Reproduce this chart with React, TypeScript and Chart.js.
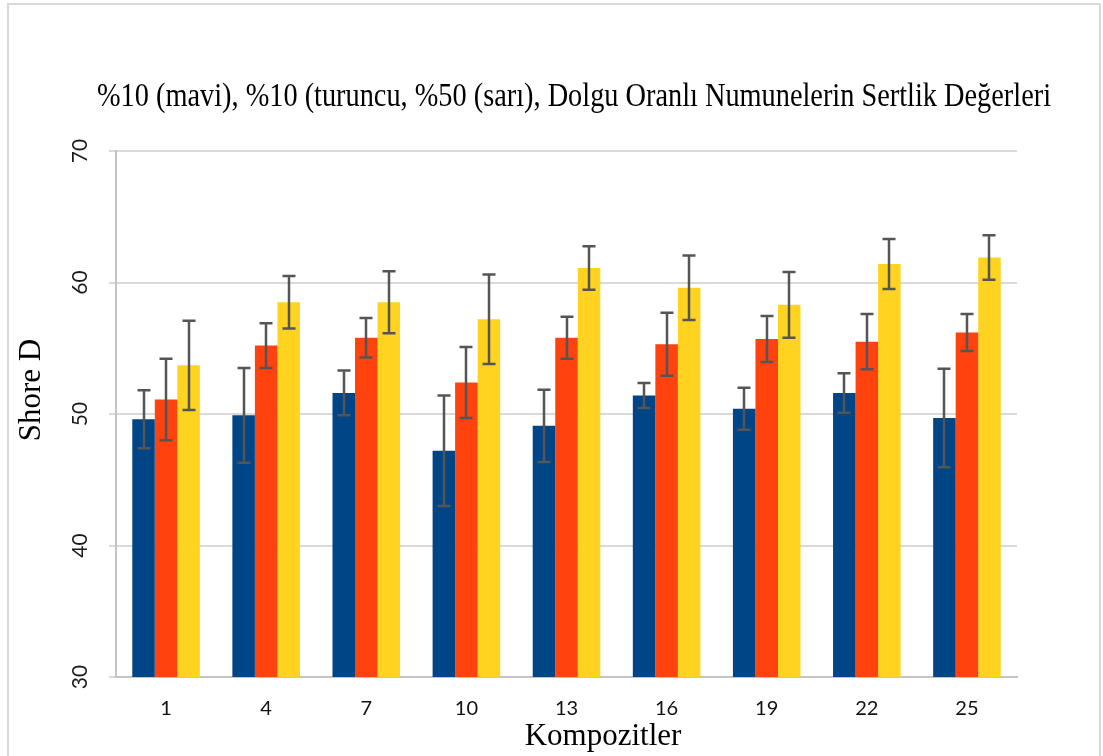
import React, { useEffect, useRef } from "react";
import { Chart, registerables } from "chart.js";

Chart.register(...registerables);

// Composite numbers on the x axis
const categories = ["1", "4", "7", "10", "13", "16", "19", "22", "25"];

// Shore D hardness means and their standard deviations
const blueValues = [49.6, 49.9, 51.6, 47.2, 49.1, 51.4, 50.4, 51.6, 49.7];
const blueErrors = [2.2, 3.6, 1.7, 4.2, 2.75, 0.95, 1.6, 1.5, 3.75];
const orangeValues = [51.1, 55.2, 55.8, 52.4, 55.8, 55.3, 55.7, 55.5, 56.2];
const orangeErrors = [3.1, 1.7, 1.5, 2.7, 1.6, 2.4, 1.75, 2.1, 1.4];
const yellowValues = [53.7, 58.5, 58.5, 57.2, 61.1, 59.6, 58.3, 61.4, 61.9];
const yellowErrors = [3.4, 2.0, 2.35, 3.4, 1.65, 2.45, 2.5, 1.9, 1.7];

const yTicks = [30, 40, 50, 60, 70];

const titleText =
  "%10 (mavi), %10 (turuncu, %50 (sarı), Dolgu Oranlı Numunelerin Sertlik Değerleri";
const yTitle = "Shore D";
const xTitle = "Kompozitler";

const serif = "'Liberation Serif', 'Times New Roman', serif";
const sans = "Lato, 'Open Sans', 'Liberation Sans', sans-serif";

const errorSets = [blueErrors, orangeErrors, yellowErrors];

// Frame around the whole chart
const framePlugin = {
  id: "frame",
  beforeDraw(chart: any) {
    const { ctx, width, height } = chart;
    ctx.save();
    ctx.fillStyle = "#ffffff";
    ctx.fillRect(0, 0, width, height);
    ctx.strokeStyle = "#d9d9d9";
    ctx.lineWidth = 2;
    ctx.strokeRect(8, 4, 1092, height + 20);
    ctx.restore();
  },
};

// Standard deviation whiskers on every bar
const errorBarPlugin = {
  id: "errorBars",
  afterDatasetsDraw(chart: any) {
    const { ctx } = chart;
    const yScale = chart.scales.y;
    ctx.save();
    ctx.strokeStyle = "#555555";
    ctx.lineWidth = 2.5;
    chart.data.datasets.forEach((ds: any, di: number) => {
      const meta = chart.getDatasetMeta(di);
      const errs = errorSets[di];
      meta.data.forEach((bar: any, i: number) => {
        const v = ds.data[i];
        const e = errs[i];
        const x = Math.round(bar.x);
        const yTop = yScale.getPixelForValue(v + e);
        const yBot = yScale.getPixelForValue(v - e);
        const cap = 6.5;
        ctx.beginPath();
        ctx.moveTo(x, yTop);
        ctx.lineTo(x, yBot);
        ctx.moveTo(x - cap, yTop);
        ctx.lineTo(x + cap, yTop);
        ctx.moveTo(x - cap, yBot);
        ctx.lineTo(x + cap, yBot);
        ctx.stroke();
      });
    });
    ctx.restore();
  },
};

// Titles and rotated value labels
const textPlugin = {
  id: "texts",
  afterDraw(chart: any) {
    const { ctx } = chart;
    const yScale = chart.scales.y;
    ctx.save();
    ctx.fillStyle = "#000000";

    // main title, set in a condensed serif
    ctx.font = `34px ${serif}`;
    ctx.textAlign = "left";
    ctx.textBaseline = "alphabetic";
    const w = ctx.measureText(titleText).width;
    const sx = 954 / w;
    ctx.save();
    ctx.translate(97, 106);
    ctx.scale(sx, 1);
    ctx.fillText(titleText, 0, 0);
    ctx.restore();

    // x axis title
    ctx.font = `31px ${serif}`;
    ctx.textAlign = "center";
    ctx.fillText(xTitle, 603, 745);

    // y axis title
    ctx.save();
    ctx.translate(32, 390);
    ctx.rotate(-Math.PI / 2);
    ctx.font = `31px ${serif}`;
    ctx.textAlign = "center";
    ctx.textBaseline = "middle";
    ctx.fillText(yTitle, 0, 0);
    ctx.restore();

    // y tick labels, rotated
    ctx.font = `21px ${sans}`;
    ctx.fillStyle = "#1a1a1a";
    yTicks.forEach((t) => {
      const y = yScale.getPixelForValue(t);
      ctx.save();
      ctx.translate(80, y);
      ctx.rotate(-Math.PI / 2);
      ctx.textAlign = "center";
      ctx.textBaseline = "middle";
      ctx.fillText(String(t), 0, 0);
      ctx.restore();
    });
    ctx.restore();
  },
};

export default function App() {
  const canvasRef = useRef<HTMLCanvasElement | null>(null);

  useEffect(() => {
    document.body.style.margin = "0";
    document.body.style.overflow = "hidden";
    const canvas = canvasRef.current;
    if (!canvas) return;
    const chart = new Chart(canvas, {
      type: "bar",
      data: {
        labels: categories,
        datasets: [
          { label: "%10 (mavi)", data: blueValues, backgroundColor: "#004586" },
          { label: "%10 (turuncu)", data: orangeValues, backgroundColor: "#ff420e" },
          { label: "%50 (sarı)", data: yellowValues, backgroundColor: "#ffd320" },
        ],
      },
      options: {
        responsive: false,
        animation: false,
        events: [],
        layout: { padding: { left: 0, right: 86, top: 151, bottom: 0 } },
        datasets: {
          bar: { categoryPercentage: 0.675, barPercentage: 1.0, borderWidth: 0 },
        },
        plugins: {
          legend: { display: false },
          title: { display: false },
          tooltip: { enabled: false },
        },
        scales: {
          x: {
            grid: { display: false, drawTicks: false },
            border: { display: true, color: "#c4c4c4", width: 2 },
            ticks: {
              color: "#111111",
              font: { family: sans, size: 20 },
              padding: 20,
            },
            afterFit(scale: any) {
              scale.height = 79;
            },
          },
          y: {
            min: 30,
            max: 70,
            ticks: { stepSize: 10, display: false },
            grid: { color: "#d9d9d9", lineWidth: 2, tickLength: 7, drawTicks: true },
            border: { display: true, color: "#c4c4c4", width: 2 },
            afterFit(scale: any) {
              scale.width = 116;
            },
          },
        },
      },
      plugins: [framePlugin, errorBarPlugin, textPlugin],
    });
    return () => chart.destroy();
  }, []);

  return (
    <div style={{ width: 1103, height: 756, position: "relative" }}>
      <canvas ref={canvasRef} width={1103} height={756} />
    </div>
  );
}
